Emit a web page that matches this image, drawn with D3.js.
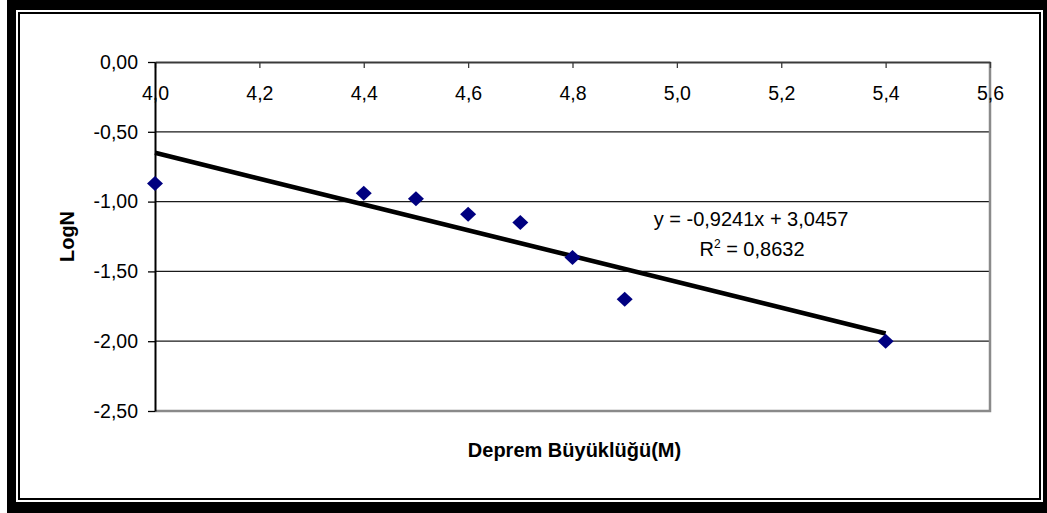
<!DOCTYPE html>
<html>
<head>
<meta charset="utf-8">
<script src="https://cdn.jsdelivr.net/npm/d3@7"></script>
<style>
  html, body { margin: 0; padding: 0; background: #fff; }
  svg { display: block; font-family: "Liberation Sans", Arial, sans-serif; }
</style>
</head>
<body>
<svg id="chart" width="1047" height="513"></svg>
<script>
// Earthquake magnitude vs. log of cumulative count
const magnitudes = [4.0, 4.4, 4.5, 4.6, 4.7, 4.8, 4.9, 5.4];
const logN = [-0.87, -0.94, -0.98, -1.09, -1.15, -1.40, -1.70, -2.00];

const xTickValues = [4.0, 4.2, 4.4, 4.6, 4.8, 5.0, 5.2, 5.4, 5.6];
const yTickValues = [0, -0.5, -1.0, -1.5, -2.0, -2.5];

// Linear trendline y = a*x + b, fitted over the magnitude range
const trendSlope = -0.9241;
const trendIntercept = 3.0457;
const trendR2 = 0.8632;
const trendRange = [4.0, 5.4];

const xTitle = "Deprem Büyüklüğü(M)";
const yTitle = "LogN";

const svg = d3.select("#chart");
const W = 1047, H = 513;

// Turkish-style number formatting: decimal comma, plain hyphen minus
const locale = d3.formatLocale({
  decimal: ",", thousands: ".", grouping: [3], currency: ["", ""], minus: "-"
});
const fmtX = locale.format(".1f");
const fmtY = locale.format(".2f");
const fmt4 = locale.format(".4f");

// Frame: heavy outer border with a thin inner rule
svg.append("rect").attr("x", 7).attr("y", 0).attr("width", W - 7).attr("height", H).attr("fill", "#000");
svg.append("rect").attr("x", 16).attr("y", 10).attr("width", 1043 - 16).attr("height", 502 - 10).attr("fill", "#fff");
svg.append("rect").attr("x", 19).attr("y", 13).attr("width", 1021).attr("height", 486)
  .attr("fill", "none").attr("stroke", "#000").attr("stroke-width", 2);

const plot = { left: 155, right: 990, top: 62, bottom: 411 };

const x = d3.scaleLinear().domain([4.0, 5.6]).range([plot.left, plot.right]);
const y = d3.scaleLinear().domain([0, -2.5]).range([plot.top, plot.bottom]);

// Horizontal gridlines
svg.append("g")
  .selectAll("line")
  .data(yTickValues.filter(v => v !== 0 && v !== -2.5))
  .join("line")
  .attr("x1", plot.left).attr("x2", plot.right)
  .attr("y1", d => y(d)).attr("y2", d => y(d))
  .attr("stroke", "#1a1a1a").attr("stroke-width", 1.2);

// Plot area right and bottom edges
svg.append("path")
  .attr("d", `M${plot.left},${y(-2.5)}H${plot.right}V${plot.top}`)
  .attr("fill", "none").attr("stroke", "#8a8a8a").attr("stroke-width", 2.5);

// X axis along y = 0, labels below the line, ticks pointing into the plot
const xAxis = svg.append("g")
  .attr("transform", `translate(0,${y(0)})`)
  .call(d3.axisBottom(x).tickValues(xTickValues).tickFormat(fmtX)
    .tickSizeInner(6).tickSizeOuter(0).tickPadding(18.5));
xAxis.select(".domain").attr("stroke", "#3a3a3a").attr("stroke-width", 2);
xAxis.selectAll(".tick line").attr("stroke", "#3a3a3a").attr("stroke-width", 1.3);
xAxis.selectAll(".tick text").attr("font-size", 19.5).attr("fill", "#000")
  .attr("font-family", "Liberation Sans, Arial, sans-serif");

// Y axis
const yAxis = svg.append("g")
  .attr("transform", `translate(${plot.left},0)`)
  .call(d3.axisLeft(y).tickValues(yTickValues).tickFormat(fmtY)
    .tickSizeInner(7).tickSizeOuter(0).tickPadding(10));
yAxis.select(".domain").attr("stroke", "#000").attr("stroke-width", 2);
yAxis.selectAll(".tick line").attr("stroke", "#000").attr("stroke-width", 1.3);
yAxis.selectAll(".tick text").attr("font-size", 19.5).attr("fill", "#000")
  .attr("font-family", "Liberation Sans, Arial, sans-serif");

// Trendline
const trend = d3.line().x(d => x(d)).y(d => y(trendSlope * d + trendIntercept));
svg.append("path")
  .datum(trendRange)
  .attr("d", trend)
  .attr("fill", "none").attr("stroke", "#000").attr("stroke-width", 4.6);

// Data markers: navy diamonds
const diamond = (cx, cy, rx, ry) => `M${cx},${cy - ry}L${cx + rx},${cy}L${cx},${cy + ry}L${cx - rx},${cy}Z`;
svg.append("g")
  .selectAll("path")
  .data(magnitudes.map((m, i) => [m, logN[i]]))
  .join("path")
  .attr("d", d => diamond(x(d[0]), y(d[1]), 8, 7.5))
  .attr("fill", "#000080");

// Trendline equation
const eqX = 751;
svg.append("text")
  .attr("x", eqX).attr("y", 226)
  .attr("text-anchor", "middle").attr("font-size", 20)
  .text(`y = ${fmt4(trendSlope)}x + ${fmt4(trendIntercept)}`);
const r2 = svg.append("text")
  .attr("x", eqX + 1).attr("y", 256)
  .attr("text-anchor", "middle").attr("font-size", 20);
r2.append("tspan").text("R");
r2.append("tspan").attr("font-size", 12).attr("dy", -8).text("2");
r2.append("tspan").attr("dy", 8).text(` = ${fmt4(trendR2)}`);

// Axis titles
svg.append("text")
  .attr("x", (plot.left + plot.right) / 2 + 2).attr("y", 457)
  .attr("text-anchor", "middle").attr("font-size", 20).attr("font-weight", "bold")
  .text(xTitle);
svg.append("text")
  .attr("transform", `translate(74,${(plot.top + plot.bottom) / 2}) rotate(-90)`)
  .attr("text-anchor", "middle").attr("font-size", 20).attr("font-weight", "bold")
  .text(yTitle);
</script>
</body>
</html>
